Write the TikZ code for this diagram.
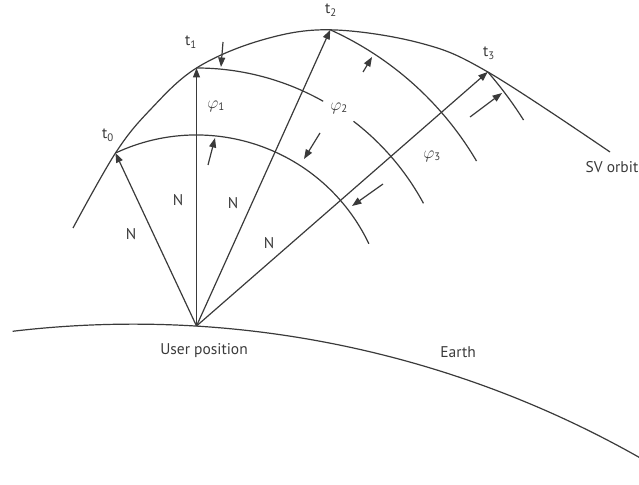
\documentclass[tikz,border=0pt]{standalone}
\usepackage{fontspec}
\setmainfont{PT Sans}
\usetikzlibrary{arrows.meta,calc}
\definecolor{ink}{HTML}{3A3A3A}
\newcommand{\phlbl}[1]{{\fontsize{19}{20}\selectfont$\varphi$}\textsubscript{#1}}
\begin{document}
\begin{tikzpicture}[x=1pt,y=1pt,
  line width=1.2pt, draw=ink, color=ink,
  tip/.style={-{Triangle[length=9.5pt,width=7pt]}},
  lbl/.style={inner sep=0pt, font=\fontsize{15.5}{17}\selectfont, text=ink}]
\useasboundingbox (0,0) rectangle (639,484);
% user position and satellite positions
\coordinate (U) at (196.5,158);
\coordinate (T0) at ($(U)+(115.1:191pt)$);
\coordinate (T1) at ($(U)+(90:258pt)$);
\coordinate (T2) at ($(U)+(65.7:325pt)$);
\coordinate (T3) at ($(U)+(41.1:386.5pt)$);
% Earth
\coordinate (EC) at (133.5,-866.6);
\coordinate (E0) at ($(EC)+(96.76:1026.5pt)$);
\draw (E0) arc[start angle=96.76, end angle=60.3, radius=1026.5pt];
% SV orbit
\coordinate (O0) at (73,256);
\coordinate (O9) at (610,332);
\draw plot[smooth, tension=0.6] coordinates {(O0) (T0) (150,374) (T1) (262,444) (T2) (420,441) (T3) (O9)};
% wavefront arcs
\draw (T0) arc[start angle=115.1, end angle=25.5, radius=191pt];
\draw (T1) arc[start angle=90, end angle=60.6, radius=258pt];
\coordinate (W1) at ($(U)+(52.5:258pt)$);
\draw (W1) arc[start angle=52.5, end angle=28.4, radius=258pt];
\draw (T2) arc[start angle=65.7, end angle=30.5, radius=325pt];
\draw (T3) arc[start angle=41.1, end angle=32.2, radius=386.5pt];
% line-of-sight vectors
\draw[tip] (U) -- (T0);
\draw[tip] (U) -- (T1);
\draw[tip] (U) -- (T2);
\draw[tip] (U) -- (T3);
% small phase arrows
\coordinate (a1s) at (223,442); \coordinate (a1e) at (221,417);
\coordinate (a2s) at (208,319); \coordinate (a2e) at (215,346);
\coordinate (a3s) at (320,351); \coordinate (a3e) at (304,325);
\coordinate (a4s) at (363,412); \coordinate (a4e) at (372,427);
\coordinate (a5s) at (383,300); \coordinate (a5e) at (352,278);
\coordinate (a6s) at (470,367); \coordinate (a6e) at (502,391);
\draw[tip] (a1s) -- (a1e);
\draw[tip] (a2s) -- (a2e);
\draw[tip] (a3s) -- (a3e);
\draw[tip] (a4s) -- (a4e);
\draw[tip] (a5s) -- (a5e);
\draw[tip] (a6s) -- (a6e);
% labels
\node[lbl] (lt0) at (108,349) {t\textsubscript{0}};
\node[lbl] (lt1) at (191,442) {t\textsubscript{1}};
\node[lbl] (lt2) at (331,474) {t\textsubscript{2}};
\node[lbl] (lt3) at (489,431) {t\textsubscript{3}};
\node[lbl] (p1) at (216,378) {\phlbl{1}};
\node[lbl] (p2) at (339,376) {\phlbl{2}};
\node[lbl] (p3) at (432,328) {\phlbl{3}};
\node[lbl] (n1) at (131,250) {N};
\node[lbl] (n2) at (178,284) {N};
\node[lbl] (n3) at (233,281) {N};
\node[lbl] (n4) at (269,241) {N};
\node[lbl] (up) at (204,133) {User position};
\node[lbl] (ea) at (458,132) {Earth};
\node[lbl] (sv) at (612,317) {SV orbit};
\end{tikzpicture}
\end{document}
